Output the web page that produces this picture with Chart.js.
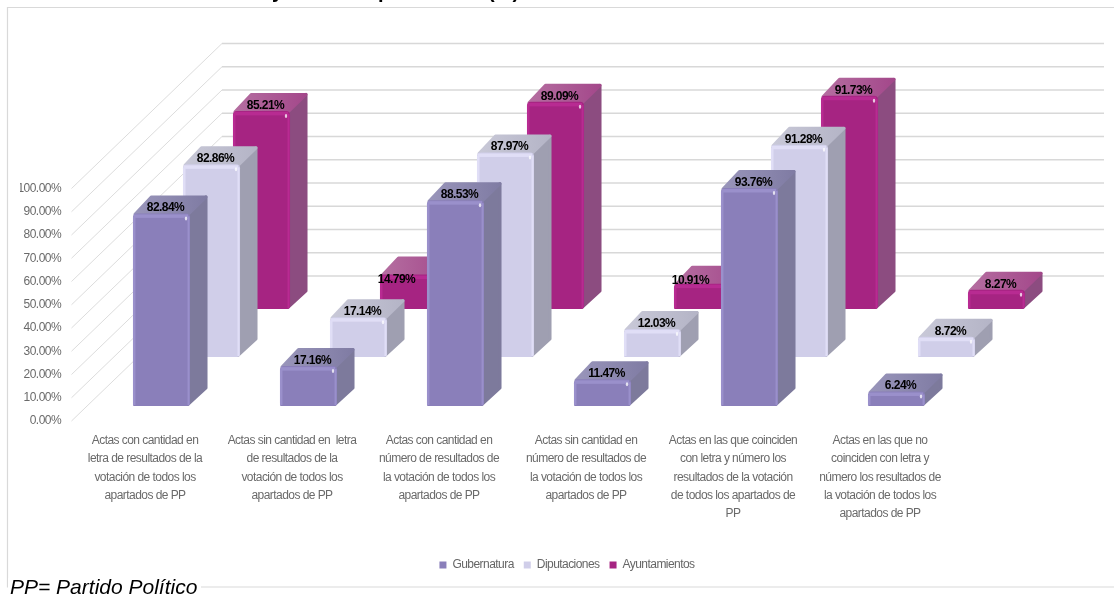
<!DOCTYPE html>
<html>
<head>
<meta charset="utf-8">
<title>Actas por tipo de eleccion</title>
<script src="https://cdn.jsdelivr.net/npm/chart.js@4"></script>
<style>
    html, body { margin: 0; padding: 0; background: #fff; }
    #wrap { width: 1114px; height: 596px; }
    /* the original is a soft, scaled up picture */
    canvas { filter: blur(0.4px); }
</style>
</head>
<body>
<div id="wrap"><canvas id="actasChart"></canvas></div>
<script>
// Chart data
const categories = [
    ['Actas con cantidad en', 'letra de resultados de la', 'votación de todos los', 'apartados de PP'],
    ['Actas sin cantidad en  letra', 'de resultados de la', 'votación de todos los', 'apartados de PP'],
    ['Actas con cantidad en', 'número de resultados de', 'la votación de todos los', 'apartados de PP'],
    ['Actas sin cantidad en', 'número de resultados de', 'la votación de todos los', 'apartados de PP'],
    ['Actas en las que coinciden', 'con letra y número los', 'resultados de la votación', 'de todos los apartados de', 'PP'],
    ['Actas en las que no', 'coinciden con letra y', 'número los resultados de', 'la votación de todos los', 'apartados de PP']
];
const seriesNames = ['Gubernatura', 'Diputaciones', 'Ayuntamientos'];
const gubernatura = [82.84, 17.16, 88.53, 11.47, 93.76, 6.24];
const diputaciones = [82.86, 17.14, 87.97, 12.03, 91.28, 8.72];
const ayuntamientos = [85.21, 14.79, 89.09, 10.91, 91.73, 8.27];

// Colours per series
const frontColors = ['#8a7fba', '#d0cee9', '#a62482'];
const bevelColors = ['#9a90cb', '#e0def6', '#b82b92'];
const sideColors = ['#7d7a9c', '#9f9fb1', '#8c4c80'];
const topColors = [['#9a96bb', '#7f7ba3'], ['#c9c9d8', '#b4b4c6'], ['#b56fa1', '#a3478a']];

// 3D look: where each series sits on the floor, and the wall behind it
const seriesShift = [[16.5, -15], [66.5, -64], [116.5, -112]];
const barDepth = [17.5, 18];
const wallShift = [150.5, -145];
const wallRight = 1104;
const axisFont = "'Liberation Sans', sans-serif";
// no narrow font here, so squeeze the letters instead
const squeeze = '-0.55px';

// a few labels sit lower than the others in the original
const labelNudges = { '2,1': [-16, 10.5], '2,3': [-16, 2.5] };

function fillRounded(ctx, pts, color) {
    ctx.beginPath();
    pts.forEach((p, i) => (i ? ctx.lineTo(p[0], p[1]) : ctx.moveTo(p[0], p[1])));
    ctx.closePath();
    ctx.fillStyle = color;
    ctx.strokeStyle = color;
    ctx.lineWidth = 3;
    ctx.lineJoin = 'round';
    ctx.fill();
    ctx.stroke();
}

const wallPlugin = {
    id: 'wall',
    beforeLayout(chart) {
        chart.ctx.letterSpacing = squeeze;
    },
    beforeDraw(chart) {
        chart.ctx.letterSpacing = squeeze;
    },
    beforeDatasetsDraw(chart) {
        const ctx = chart.ctx;
        const y = chart.scales.y;
        const left = chart.chartArea.left;

        ctx.save();
        // outer frame
        ctx.strokeStyle = '#d9d9d9';
        ctx.lineWidth = 1.2;
        ctx.beginPath();
        ctx.moveTo(1114, 7.5);
        ctx.lineTo(7.5, 7.5);
        ctx.lineTo(7.5, 587);
        ctx.lineTo(1114, 587);
        ctx.stroke();

        y.ticks.forEach(t => {
            const py = y.getPixelForValue(t.value);
            ctx.strokeStyle = '#d8d8d8';
            ctx.lineWidth = 0.9;
            ctx.beginPath();
            ctx.moveTo(left, py);
            ctx.lineTo(left + wallShift[0], py + wallShift[1]);
            ctx.stroke();
            ctx.lineWidth = 1.4;
            ctx.beginPath();
            ctx.moveTo(left + wallShift[0], py + wallShift[1]);
            ctx.lineTo(wallRight, py + wallShift[1]);
            ctx.stroke();
        });
        ctx.restore();
    }
};

const boxPlugin = {
    id: 'box3d',
    // side and top faces go under the bar, and the whole series is moved back
    beforeDatasetDraw(chart, args) {
        const ctx = chart.ctx;
        const i = args.index;
        const [dx, dy] = seriesShift[i];
        const [depthX, depthY] = barDepth;

        ctx.save();
        ctx.translate(dx, dy);
        args.meta.data.forEach(bar => {
            const l = bar.x - bar.width / 2;
            const r = bar.x + bar.width / 2;
            fillRounded(ctx, [
                [r - 2, bar.y + 2], [r + depthX - 1.5, bar.y - depthY + 1.5],
                [r + depthX - 1.5, bar.base - depthY], [r - 2, bar.base - 1.5]
            ], sideColors[i]);

            const grad = ctx.createLinearGradient(l, 0, r + depthX, 0);
            grad.addColorStop(0, topColors[i][0]);
            grad.addColorStop(1, topColors[i][1]);
            fillRounded(ctx, [
                [l + 2, bar.y + 1], [l + depthX + 1, bar.y - depthY + 1.5],
                [r + depthX - 1.5, bar.y - depthY + 1.5], [r - 2, bar.y + 1]
            ], grad);
        });
    },
    // bevel on the front face, then undo the move
    afterDatasetDraw(chart, args) {
        const ctx = chart.ctx;
        const i = args.index;

        args.meta.data.forEach(bar => {
            const l = bar.x - bar.width / 2;
            const r = bar.x + bar.width / 2;
            const h = bar.base - bar.y;

            ctx.fillStyle = bevelColors[i];
            ctx.fillRect(l + 1, bar.y + 1, bar.width - 3, 3.5);
            ctx.fillRect(l, bar.y + 3, 2.5, h - 4);
            ctx.fillRect(r - 2.5, bar.y + 3, 2, h - 4);

            // small shine on the corner
            ctx.fillStyle = 'rgba(255,255,255,0.75)';
            ctx.beginPath();
            ctx.ellipse(r - 4, bar.y + 5, 1.2, 2, 0, 0, Math.PI * 2);
            ctx.fill();
        });
        ctx.restore();
    },
    afterDatasetsDraw(chart) {
        const ctx = chart.ctx;

        ctx.save();
        ctx.font = "bold 12px " + axisFont;
        ctx.fillStyle = '#000';
        ctx.textAlign = 'center';
        ctx.textBaseline = 'middle';
        chart.data.datasets.forEach((ds, i) => {
            chart.getDatasetMeta(i).data.forEach((bar, j) => {
                const nudge = labelNudges[i + ',' + j] || [0, 0];
                ctx.fillText(
                    ds.data[j].toFixed(2) + '%',
                    bar.x + seriesShift[i][0] + 4 + nudge[0],
                    bar.y + seriesShift[i][1] - 5.5 + nudge[1]
                );
            });
        });
        ctx.restore();
    },
    afterDraw(chart) {
        const ctx = chart.ctx;

        ctx.save();
        ctx.letterSpacing = '0px';
        // footnote sits on the frame line
        ctx.fillStyle = '#fff';
        ctx.fillRect(8, 578, 193, 18);
        ctx.fillStyle = '#000';
        ctx.font = "italic 21px " + axisFont;
        ctx.textBaseline = 'alphabetic';
        ctx.fillText('PP= Partido Político', 10, 594);

        // only the bottoms of the cut off title show in the original
        ctx.font = "bold 20px " + axisFont;
        ctx.fillText('y', 272, -2);
        ctx.fillText('p', 378, -2);
        ctx.fillText('(%)', 488, -2);
        ctx.restore();
    }
};

const seriesValues = [gubernatura, diputaciones, ayuntamientos];

new Chart(document.getElementById('actasChart'), {
    type: 'bar',
    data: {
        labels: categories,
        datasets: seriesNames.map((name, i) => ({
            label: name,
            data: seriesValues[i],
            backgroundColor: frontColors[i],
            borderRadius: { topLeft: 4, topRight: 4, bottomLeft: 1, bottomRight: 3 },
            borderSkipped: false,
            grouped: false,
            barPercentage: 0.388,
            categoryPercentage: 1,
            clip: false
        }))
    },
    options: {
        responsive: true,
        maintainAspectRatio: false,
        animation: false,
        layout: { padding: { left: 20, right: 0, top: 188.5, bottom: 15 } },
        plugins: {
            title: { display: false },
            tooltip: { enabled: false },
            legend: {
                position: 'bottom',
                labels: {
                    boxWidth: 7,
                    boxHeight: 7,
                    padding: 10,
                    color: '#666',
                    font: { family: axisFont, size: 12 }
                }
            }
        },
        scales: {
            x: {
                offset: true,
                grid: { display: false },
                border: { display: false },
                ticks: {
                    autoSkip: false,
                    maxRotation: 0,
                    padding: 2,
                    color: '#6a6a6a',
                    font: { family: axisFont, size: 12, lineHeight: 1.54 }
                },
                afterFit(scale) { scale.height = 128; }
            },
            y: {
                min: 0,
                max: 100,
                grid: { display: false },
                border: { display: false },
                ticks: {
                    stepSize: 10,
                    padding: 2.5,
                    color: '#6a6a6a',
                    font: { family: axisFont, size: 12 },
                    callback: v => v.toFixed(2) + '%'
                },
                afterFit(scale) { scale.width = 51.5; }
            },
            // empty axis, only holds the room right of the floor
            gap: {
                position: 'right',
                grid: { display: false },
                border: { display: false },
                ticks: { display: false },
                afterFit(scale) { scale.width = 160.5; }
            }
        }
    },
    plugins: [wallPlugin, boxPlugin]
});
</script>
</body>
</html>
